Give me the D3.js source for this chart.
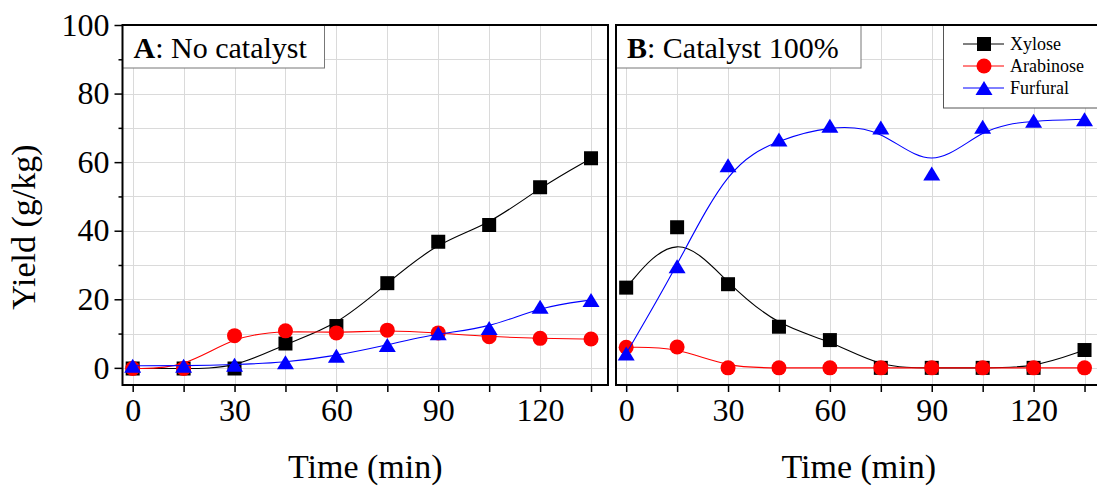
<!DOCTYPE html>
<html><head><meta charset="utf-8">
<script src="https://cdn.jsdelivr.net/npm/d3@7"></script>
<style>html,body{margin:0;padding:0;background:#fff;overflow:hidden}svg{display:block}</style>
</head><body>
<script>
// ---- data ----
const times = [0, 15, 30, 45, 60, 75, 90, 105, 120, 135];
const xyloseA    = [-0.2, -0.2, -0.2, 7.1, 12.2, 24.7, 36.8, 41.7, 52.7, 61.1];
const arabinoseA = [-0.2, -0.2, 9.4, 10.8, 10.2, 11.0, 10.2, 9.1, 8.6, 8.4];
const furfuralA  = [0.6, 0.6, 0.9, 1.6, 3.5, 6.7, 10.1, 11.6, 17.8, 19.8];
const xyloseB    = [23.4, 41.0, 24.4, 12.0, 8.1, 0, 0, 0, 0, 5.2];
const arabinoseB = [6.0, 6.1, 0, 0, 0, 0, 0, 0, 0, 0];
const furfuralB  = [4.2, 29.6, 59.1, 66.6, 70.6, 70.1, 56.7, 70.3, 72.1, 72.5];
const seriesNames = ["Xylose", "Arabinose", "Furfural"];
const seriesColors = ["#000000", "#ff0000", "#0000ff"];
const yMajorTicks = [0, 20, 40, 60, 80, 100];
const yMinorTicks = [10, 30, 50, 70, 90];
const xTicks = [0, 15, 30, 45, 60, 75, 90, 105, 120, 135];
const xTickLabels = [0, 30, 60, 90, 120];
const panelTitles = [["A", ": No catalyst"], ["B", ": Catalyst 100%"]];

const W = 1097, H = 489;
const svg = d3.select("body").append("svg").attr("width", W).attr("height", H)
  .style("font-family", "'Liberation Serif','Times New Roman',serif");

const plotTop = 25, plotBottom = 385;
const y = d3.scaleLinear().domain([-5, 100]).range([plotBottom, plotTop]);
const panels = [
  {x0: 122.5, x1: 608, data: [xyloseA, arabinoseA, furfuralA], title: panelTitles[0], labels: true, boxW: 202, legend: false},
  {x0: 616, x1: 1101.5, data: [xyloseB, arabinoseB, furfuralB], title: panelTitles[1], labels: false, boxW: 245, legend: true}
];

// symbols
const triType = {draw(ctx, size) { const w = 8.5, h = 7; ctx.moveTo(0, -h); ctx.lineTo(w, h); ctx.lineTo(-w, h); ctx.closePath(); }};
const sqType = {draw(ctx, size) { const s = 7; ctx.rect(-s, -s, 2 * s, 2 * s); }};
const circType = {draw(ctx, size) { const r = 7.5; ctx.moveTo(r, 0); ctx.arc(0, 0, r, 0, 2 * Math.PI); }};
const symTypes = [sqType, circType, triType];

panels.forEach((p, pi) => {
  const x = d3.scaleLinear().domain([-3, 140]).range([p.x0, p.x1]);
  const g = svg.append("g");
  const clipId = "clip" + pi;
  svg.append("clipPath").attr("id", clipId).append("rect")
    .attr("x", p.x0).attr("y", plotTop).attr("width", p.x1 - p.x0).attr("height", plotBottom - plotTop);

  // grid
  const grid = g.append("g").attr("stroke", "#dadada").attr("stroke-width", 1);
  d3.range(0, 101, 10).forEach(v => grid.append("line")
    .attr("x1", p.x0).attr("x2", p.x1).attr("y1", Math.round(y(v)) + 0.5).attr("y2", Math.round(y(v)) + 0.5));
  xTicks.forEach(v => grid.append("line")
    .attr("x1", Math.round(x(v)) + 0.5).attr("x2", Math.round(x(v)) + 0.5).attr("y1", plotTop).attr("y2", plotBottom));

  // title box
  g.append("rect").attr("x", p.x0).attr("y", plotTop).attr("width", p.boxW).attr("height", 43)
    .attr("fill", "#fff").attr("stroke", "#777").attr("stroke-width", 1);
  const t = g.append("text").attr("x", p.x0 + 11).attr("y", 58).attr("font-size", 30).attr("fill", "#000");
  t.append("tspan").attr("font-weight", "bold").text(p.title[0]);
  t.append("tspan").text(p.title[1]);

  // legend
  if (p.legend) {
    const lg = g.append("g");
    lg.append("rect").attr("x", 943.5).attr("y", plotTop).attr("width", 200).attr("height", 83)
      .attr("fill", "#fff").attr("stroke", "#555").attr("stroke-width", 1);
    seriesNames.forEach((n, i) => {
      const ly = 44 + i * 22;
      lg.append("line").attr("x1", 963).attr("x2", 1004).attr("y1", ly).attr("y2", ly)
        .attr("stroke", seriesColors[i]).attr("stroke-width", 1);
      lg.append("path").attr("transform", `translate(984,${ly})`)
        .attr("d", d3.symbol().type(symTypes[i])()).attr("fill", seriesColors[i]);
      lg.append("text").attr("x", 1010).attr("y", ly + 6).attr("font-size", 18).attr("fill", "#000").text(n);
    });
  }

  // series
  const line = d3.line().x((d, i) => x(times[i])).y(d => y(d)).curve(d3.curveBasis);
  p.data.forEach((vals, si) => {
    const sg = g.append("g").attr("clip-path", `url(#${clipId})`);
    sg.append("path").datum(vals).attr("d", line).attr("fill", "none")
      .attr("stroke", seriesColors[si]).attr("stroke-width", 1.1);
    sg.selectAll("path.sym").data(vals).join("path").attr("class", "sym")
      .attr("transform", (d, i) => `translate(${x(times[i])},${y(d)})`)
      .attr("d", d3.symbol().type(symTypes[si])()).attr("fill", seriesColors[si]);
  });

  // frame
  const fr = g.append("g").attr("stroke", "#000").attr("stroke-width", 2).attr("fill", "none");
  fr.append("rect").attr("x", p.x0).attr("y", plotTop).attr("width", p.x1 - p.x0).attr("height", plotBottom - plotTop);

  // x axis
  const xa = g.append("g").attr("transform", `translate(0,${plotBottom})`)
    .call(d3.axisBottom(x).tickValues(xTicks).tickSize(7).tickPadding(6)
      .tickFormat(v => xTickLabels.includes(v) ? v : ""));
  xa.select(".domain").remove();
  xa.selectAll("line").attr("stroke-width", 1.5);
  xa.selectAll("text").attr("font-size", 32).attr("font-family", "'Liberation Serif',serif").attr("fill", "#000");
  g.append("text").attr("x", (p.x0 + p.x1) / 2).attr("y", 478).attr("text-anchor", "middle")
    .attr("font-size", 34).attr("fill", "#000").text("Time (min)");

  // y axis
  if (p.labels) {
    const ya = g.append("g").attr("transform", `translate(${p.x0},0)`)
      .call(d3.axisLeft(y).tickValues(yMajorTicks).tickSize(8).tickPadding(5));
    ya.select(".domain").remove();
    ya.selectAll("line").attr("stroke-width", 1.5);
    ya.selectAll("text").attr("font-size", 32).attr("font-family", "'Liberation Serif',serif").attr("fill", "#000");
    const ym = g.append("g").attr("transform", `translate(${p.x0},0)`)
      .call(d3.axisLeft(y).tickValues(yMinorTicks).tickSize(4).tickFormat(""));
    ym.select(".domain").remove();
    ym.selectAll("line").attr("stroke-width", 1.5);
    svg.append("text").attr("transform", "translate(35,227) rotate(-90)").attr("text-anchor", "middle")
      .attr("font-size", 34).attr("fill", "#000").text("Yield (g/kg)");
  }
});
</script>
</body></html>
